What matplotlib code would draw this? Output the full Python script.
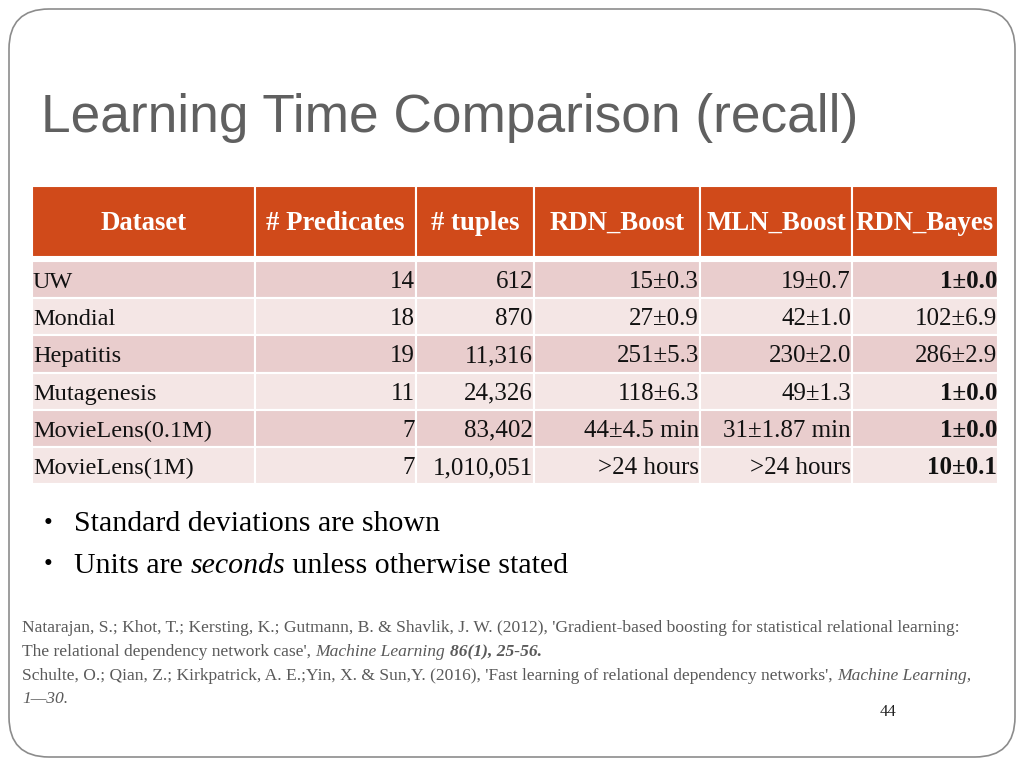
import matplotlib.pyplot as plt
from matplotlib.patches import Rectangle, FancyBboxPatch

# table data
headers = ['Dataset', '# Predicates', '# tuples', 'RDN_Boost', 'MLN_Boost', 'RDN_Bayes']
datasets = ['UW', 'Mondial', 'Hepatitis', 'Mutagenesis', 'MovieLens(0.1M)', 'MovieLens(1M)']
predicates = ['14', '18', '19', '11', '7', '7']
tuples = ['612', '870', '11,316', '24,326', '83,402', '1,010,051']
rdn_boost = ['15\u00b10.3', '27\u00b10.9', '251\u00b15.3', '118\u00b16.3', '44\u00b14.5 min', '>24 hours']
mln_boost = ['19\u00b10.7', '42\u00b11.0', '230\u00b12.0', '49\u00b11.3', '31\u00b11.87 min', '>24 hours']
rdn_bayes = ['1\u00b10.0', '102\u00b16.9', '286\u00b12.9', '1\u00b10.0', '1\u00b10.0', '10\u00b10.1']
bayes_bold = [True, False, False, True, True, True]

bullets = ['Standard deviations are shown']
title = 'Learning Time Comparison (recall)'

col_edges = [32, 255, 416, 534, 700, 852, 998]
header_top, header_bot = 186, 257
row_top, row_h = 261, 37.2

fig = plt.figure(figsize=(10.24, 7.68), dpi=100)
ax = fig.add_axes([0, 0, 1, 1])
ax.set_xlim(0, 1024)
ax.set_ylim(768, 0)
ax.axis('off')

# slide frame
ax.add_patch(FancyBboxPatch((9, 9), 1006, 748, boxstyle='round,pad=0,rounding_size=40',
                            facecolor='white', edgecolor='#8c8c8c', lw=1.2))

ax.text(41, 132, title, fontsize=38.3, color='#606060', va='baseline', ha='left',
        family=['Liberation Sans', 'DejaVu Sans'])

serif = ['Liberation Serif', 'DejaVu Serif']
orange = '#d04a1a'
odd_c, even_c = '#e9cdcd', '#f4e6e5'

# header
for i, h in enumerate(headers):
    x0, x1 = col_edges[i], col_edges[i + 1]
    ax.add_patch(Rectangle((x0, header_top), x1 - x0, header_bot - header_top,
                           facecolor=orange, edgecolor='white', lw=1.5))
    ax.text((x0 + x1) / 2, 230, h, color='white', fontsize=19.3, fontweight='bold',
            ha='center', va='baseline', family=serif)

cols = [datasets, predicates, tuples, rdn_boost, mln_boost, rdn_bayes]
for r in range(len(datasets)):
    y0 = row_top + r * row_h
    yb = y0 + 27
    for i in range(len(headers)):
        x0, x1 = col_edges[i], col_edges[i + 1]
        ax.add_patch(Rectangle((x0, y0), x1 - x0, row_h,
                               facecolor=odd_c if r % 2 == 0 else even_c,
                               edgecolor='white', lw=1.5))
        txt = cols[i][r]
        bold = (i == 5 and bayes_bold[r])
        if i == 0:
            ax.text(x0 + 1, yb, txt, fontsize=17.5, ha='left', va='baseline',
                    family=serif, color='#111111')
        else:
            ax.text(x1 - 1, yb, txt, fontsize=18, ha='right', va='baseline',
                    family=serif, color='#111111',
                    fontweight='bold' if bold else 'normal')

# bullets
bl_y = [524, 565]
ax.text(44, bl_y[0], '\u2022', fontsize=18, va='center', ha='left', family=serif)
ax.text(74, bl_y[0], bullets[0], fontsize=21.5, va='center', ha='left', family=serif)
ax.text(44, bl_y[1], '\u2022', fontsize=18, va='center', ha='left', family=serif)

fig.canvas.draw()
renderer = fig.canvas.get_renderer()
inv = ax.transData.inverted()


def run(x, y, parts, size, color):
    # draw text pieces one after another on the same baseline
    for s, style, weight in parts:
        t = ax.text(x, y, s, fontsize=size, va='baseline', ha='left', family=serif,
                    style=style, weight=weight, color=color)
        bb = t.get_window_extent(renderer)
        x = inv.transform((bb.x1, bb.y0))[0]
    return x


run(74, bl_y[1] + 8, [('Units are ', 'normal', 'normal'), ('seconds', 'italic', 'normal'),
                      (' unless otherwise stated', 'normal', 'normal')], 21.5, 'black')

ref_c = '#5a5a5a'
rs = 12.6
run(22, 632, [("Natarajan, S.; Khot, T.; Kersting, K.; Gutmann, B. & Shavlik, J. W. (2012), "
               "'Gradient-based boosting for statistical relational learning:", 'normal', 'normal')], rs, ref_c)
run(22, 656, [("The relational dependency network case', ", 'normal', 'normal'),
              ('Machine Learning ', 'italic', 'normal'),
              ('86(1), 25-56.', 'italic', 'bold')], rs, ref_c)
run(22, 680, [("Schulte, O.; Qian, Z.; Kirkpatrick, A. E.;Yin, X. & Sun,Y. (2016), "
               "'Fast learning of relational dependency networks', ", 'normal', 'normal'),
              ('Machine Learning,', 'italic', 'normal')], rs, ref_c)
run(22, 703, [('1\u201430.', 'italic', 'normal')], rs, ref_c)

ax.text(880, 712, '44', fontsize=12, va='center', ha='left', family=serif, color='#222222')

fig.savefig('out.png', dpi=100)
